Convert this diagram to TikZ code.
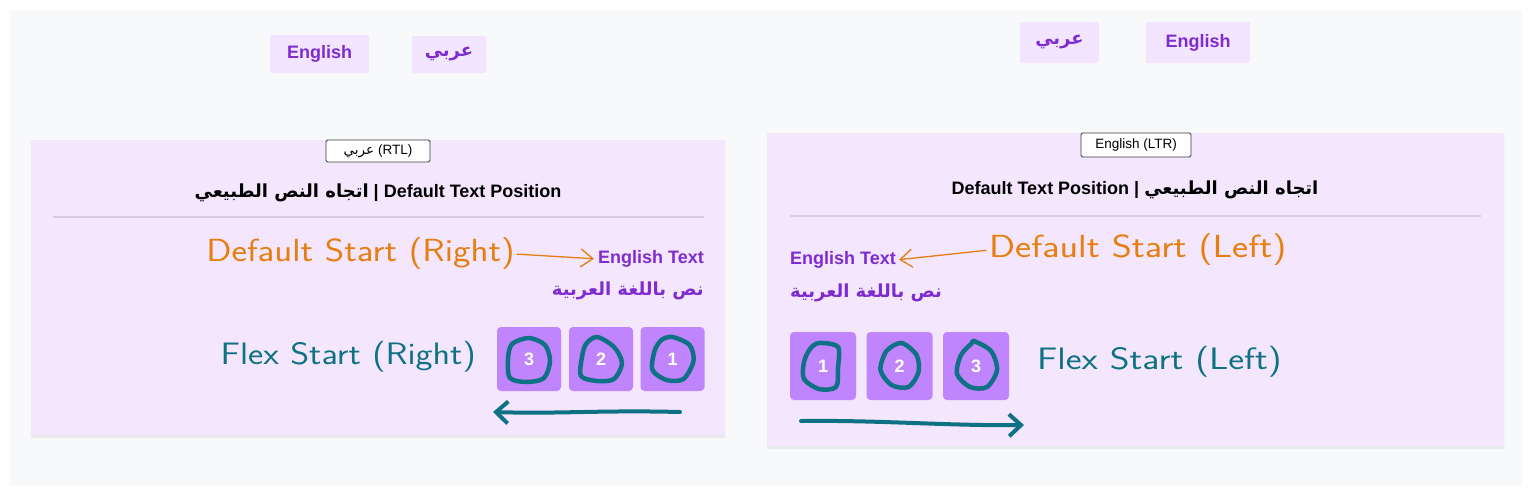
\documentclass[tikz,border=0pt]{standalone}
\usepackage{fontspec}
\setmainfont{Liberation Sans}
\newfontfamily\ar[Script=Arabic]{DejaVu Sans}
\TeXXeTstate=1
\usetikzlibrary{arrows.meta,shadows}
\definecolor{pagebg}{HTML}{F8F9FB}
\definecolor{btnbg}{HTML}{F3E4FF}
\definecolor{panelbg}{HTML}{F3E6FD}
\definecolor{ptext}{HTML}{7E2BD0}
\definecolor{boxc}{HTML}{C084FC}
\definecolor{tealc}{HTML}{0F7284}
\definecolor{orangec}{HTML}{E67E10}
\definecolor{sepc}{HTML}{D6CCE4}
\definecolor{tagborder}{HTML}{3A3A3A}
\tikzset{
  btn/.style={fill=btnbg, rounded corners=2pt, text=ptext, inner sep=0pt,
    font=\bfseries\fontsize{18}{20}\selectfont},
  panel/.style={fill=panelbg, draw=none, rounded corners=1pt,
    drop shadow={shadow xshift=0pt, shadow yshift=-3pt, opacity=0.12}},
  tagbox/.style={draw=tagborder, line width=0.8pt, fill=white, rounded corners=1.5pt,
    inner sep=0pt, font=\fontsize{13.5}{15}\selectfont},
  titletxt/.style={inner sep=0pt, font=\bfseries\fontsize{18}{22}\selectfont},
  ptxt/.style={inner sep=0pt, text=ptext, font=\bfseries\fontsize{18}{22}\selectfont},
  sepline/.style={draw=sepc, line width=1.2pt},
  orngtxt/.style={inner sep=0pt, text=orangec, font=\sffamily\fontsize{32}{36}\selectfont},
  tealtxt/.style={inner sep=0pt, text=tealc, font=\sffamily\fontsize{31}{34}\selectfont},
  oarrow/.style={draw=orangec, line width=1.3pt, line cap=round,
    -{Straight Barb[length=12pt,width=18pt,line width=1.3pt]}},
  tarrow/.style={draw=tealc, line width=4pt, line cap=round, line join=round,
    -{Straight Barb[length=12pt,width=22pt,line width=4pt]}},
  sq/.style={fill=boxc, rounded corners=4pt, text=white, inner sep=0pt,
    font=\bfseries\fontsize{18}{20}\selectfont},
  handc/.style={draw=tealc, line width=4.5pt, line cap=round, line join=round}
}
\begin{document}
\begin{tikzpicture}[x=1pt,y=-1pt]
\useasboundingbox (0,0) rectangle (1536,496);
\fill[white] (0,0) rectangle (1536,496);
\fill[pagebg] (10,10) rectangle (1522,486);

% top buttons
\node[btn, minimum width=99pt, minimum height=38pt] (b1) at (319.5,54) {English};
\node[btn, minimum width=74pt, minimum height=37pt] (b2) at (449,54.5) {\ar\beginR عربي\endR};
\node[btn, minimum width=79pt, minimum height=41pt] (b3) at (1059.5,42.5) {\ar\beginR عربي\endR};
\node[btn, minimum width=104pt, minimum height=41pt] (b4) at (1198,42.5) {English};

% panels
\node[panel, minimum width=694pt, minimum height=295pt, anchor=north west] (pl) at (31,140) {};
\node[panel, minimum width=737pt, minimum height=313pt, anchor=north west] (pr) at (767,133) {};

% tags
\node[tagbox, minimum width=104pt, minimum height=22pt] (tl) at (378,151) {{\ar\beginR عربي\endR} (RTL)};
\node[tagbox, minimum width=110pt, minimum height=24pt] (tr) at (1136,145) {English (LTR)};

% titles
\node[titletxt] (ttl) at (378,193) {{\ar\bfseries\beginR اتجاه النص الطبيعي\endR} | Default Text Position};
\node[titletxt] (ttr) at (1135,190) {Default Text Position | {\ar\bfseries\beginR اتجاه النص الطبيعي\endR}};

\draw[sepline] (53,217) -- (704,217);
\draw[sepline] (790,216) -- (1481,216);

% purple texts
\node[ptxt, anchor=east] (etl) at (704,259) {English Text};
\node[ptxt, anchor=east] (arl) at (704,291) {\ar\bfseries\beginR نص باللغة العربية\endR};
\node[ptxt, anchor=west] (etr) at (790,260) {English Text};
\node[ptxt, anchor=west] (arr) at (790,293) {\ar\bfseries\beginR نص باللغة العربية\endR};

% orange notes
\node[orngtxt, anchor=east] (dsl) at (515,254) {\scalebox{1.16}[1]{Default Start (Right)}};
\node[orngtxt, anchor=west] (dsr) at (989,250) {\scalebox{1.2}[1]{Default Start (Left)}};
\draw[oarrow, shorten >=4pt, shorten <=2pt] (dsl.east) -- (etl.west);
\draw[oarrow, shorten >=3pt, shorten <=3pt] (dsr.west) -- (etr.east);

% boxes left
\node[sq, minimum width=64pt, minimum height=64pt] (l3) at (529,359) {3};
\node[sq, minimum width=64pt, minimum height=64pt] (l2) at (601,359) {2};
\node[sq, minimum width=64pt, minimum height=64pt] (l1) at (672.5,359) {1};
% boxes right
\node[sq, minimum width=66pt, minimum height=68pt] (r1) at (823,366) {1};
\node[sq, minimum width=66pt, minimum height=68pt] (r2) at (899.5,366) {2};
\node[sq, minimum width=66pt, minimum height=68pt] (r3) at (976,366) {3};

% hand-drawn circles
\draw[handc, shift={(l3.center)}] plot[smooth cycle] coordinates {(0,-21) (16,-14) (21,2) (15,19) (-2,23) (-19,19) (-21,0) (-17,-15)};
\draw[handc, shift={(l2.center)}] plot[smooth cycle] coordinates {(-4,-22) (13,-12) (21,4) (13,20) (-4,22) (-20,17) (-19,-2) (-15,-15)};
\draw[handc, shift={(l1.center)}] plot[smooth cycle] coordinates {(0,-22) (17,-14) (21,2) (11,20) (-6,21) (-20,11) (-18,-8) (-11,-19)};
\draw[handc, shift={(r1.center)}] plot[smooth cycle] coordinates {(-4,-23) (15,-19) (15,2) (13,21) (-4,23) (-19,13) (-19,-4) (-13,-17)};
\draw[handc, shift={(r2.center)}] plot[smooth cycle] coordinates {(2,-23) (17,-11) (19,6) (9,21) (-8,19) (-19,4) (-13,-15)};
\draw[handc, shift={(r3.center)}] plot[smooth cycle] coordinates {(-2,-25) (15,-15) (21,4) (11,21) (-6,21) (-19,8) (-15,-11) (-4,-23)};

% teal labels
\node[tealtxt, anchor=east] (fl) at (476,357) {\scalebox{1.17}[1]{Flex Start (Right)}};
\node[tealtxt, anchor=west] (fr) at (1037,362) {\scalebox{1.22}[1]{Flex Start (Left)}};

% teal arrows
\coordinate (la1) at (680,412);
\coordinate (la2) at (493,412);
\coordinate (ra1) at (801,421);
\coordinate (ra2) at (1024,425);
\draw[tarrow] (la1) .. controls (600,410) and (560,414) .. (la2);
\draw[tarrow] (ra1) .. controls (880,420) and (950,426) .. (ra2);
\end{tikzpicture}
\end{document}
